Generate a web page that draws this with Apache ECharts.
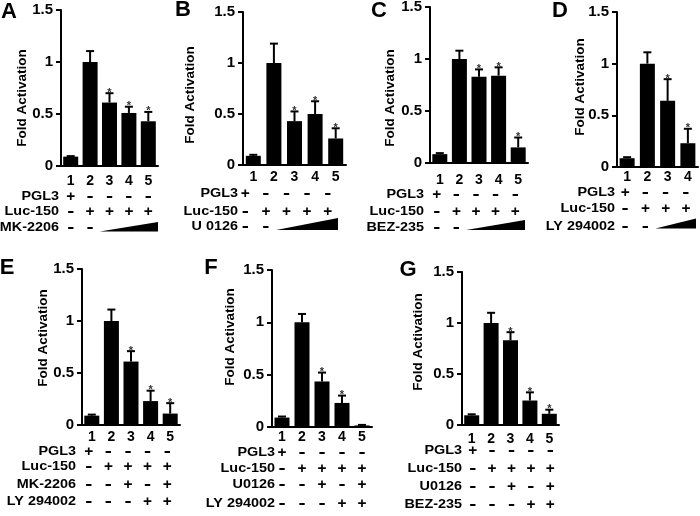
<!DOCTYPE html>
<html><head><meta charset="utf-8">
<script src="https://cdn.jsdelivr.net/npm/echarts@6/dist/echarts.min.js"></script>
<style>html,body{margin:0;padding:0;background:#fff}#c{width:700px;height:516px}</style>
</head><body><div id="c"></div>
<script>
// ---------- data ----------
const lanes5 = ['1','2','3','4','5'];
const lanes4 = ['1','2','3','4'];
const yMin = 0, yMax = 1.5, yStep = 0.5;

const meanA = [0.09, 1.0, 0.61, 0.51, 0.43];
const semA  = [0.005, 0.105, 0.09, 0.06, 0.09];
const starA = [0, 0, 1, 1, 1];
const rowsA = ['PGL3', 'Luc-150', 'MK-2206'];
const marksA = [['+','-','-','-','-'], ['-','+','+','+','+'], ['-','-','','','']];

const meanB = [0.09, 1.0, 0.43, 0.50, 0.26];
const semB  = [0.01, 0.19, 0.095, 0.125, 0.10];
const starB = [0, 0, 1, 1, 1];
const rowsB = ['PGL3', 'Luc-150', 'U 0126'];
const marksB = [['+','-','-','-','-'], ['-','+','+','+','+'], ['-','-','','','']];

const meanC = [0.085, 1.0, 0.83, 0.84, 0.15];
const semC  = [0.01, 0.08, 0.07, 0.08, 0.095];
const starC = [0, 0, 1, 1, 1];
const rowsC = ['PGL3', 'Luc-150', 'BEZ-235'];
const marksC = [['+','-','-','-','-'], ['-','+','+','+','+'], ['-','-','','','']];

const meanD = [0.085, 1.0, 0.64, 0.23];
const semD  = [0.01, 0.11, 0.21, 0.14];
const starD = [0, 0, 1, 1];
const rowsD = ['PGL3', 'Luc-150', 'LY 294002'];
const marksD = [['+','-','-','-'], ['-','+','+','+'], ['-','-','','']];

const meanE = [0.09, 1.0, 0.61, 0.23, 0.11];
const semE  = [0.01, 0.11, 0.10, 0.10, 0.10];
const starE = [0, 0, 1, 1, 1];
const rowsE = ['PGL3', 'Luc-150', 'MK-2206', 'LY 294002'];
const marksE = [['+','-','-','-','-'], ['-','+','+','+','+'], ['-','-','+','-','+'], ['-','-','-','+','+']];

const meanF = [0.09, 1.0, 0.435, 0.23, 0.015];
const semF  = [0.01, 0.08, 0.085, 0.07, 0.005];
const starF = [0, 0, 1, 1, 0];
const rowsF = ['PGL3', 'Luc-150', 'U0126', 'LY 294002'];
const marksF = [['+','-','-','-','-'], ['-','+','+','+','+'], ['-','-','+','-','+'], ['-','-','-','+','+']];

const meanG = [0.095, 1.0, 0.83, 0.24, 0.11];
const semG  = [0.01, 0.10, 0.08, 0.08, 0.04];
const starG = [0, 0, 1, 1, 1];
const rowsG = ['PGL3', 'Luc-150', 'U0126', 'BEZ-235'];
const marksG = [['+','-','-','-','-'], ['-','+','+','+','+'], ['-','-','+','-','+'], ['-','-','-','+','+']];

const panelLetters = ['A','B','C','D','E','F','G'];
const yTitle = 'Fold Activation';

// ---------- layout ----------
const FF = '"Liberation Sans", Arial, sans-serif';
const panels = [
  {lanes: lanes5, mean: meanA, sem: semA, star: starA, rows: rowsA, marks: marksA, wedgeRow: 2,
   g: [61, 10, 97, 156], numMargin: 8, rowY: [31, 46, 62], colDx: 0, nameDx: -2, wedge: [65.5, 9.5],
   letter: [9, 12], title: [22, 98]},
  {lanes: lanes5, mean: meanB, sem: semB, star: starB, rows: rowsB, marks: marksB, wedgeRow: 2,
   g: [243, 12, 103, 153], numMargin: 5, rowY: [29, 47, 62], colDx: -8, nameDx: -5, wedge: [65, 12],
   letter: [183, 10], title: [190, 95]},
  {lanes: lanes5, mean: meanC, sem: semC, star: starC, rows: rowsC, marks: marksC, wedgeRow: 2,
   g: [430, 7, 98, 156], numMargin: 10, rowY: [32, 49, 65], colDx: -3, nameDx: -6, wedge: [67, 10],
   letter: [379, 11], title: [390, 98]},
  {lanes: lanes4, mean: meanD, sem: semD, star: starD, rows: rowsD, marks: marksD, wedgeRow: 2,
   g: [617, 12, 81, 155], numMargin: 3, rowY: [26, 42, 60], colDx: -2, nameDx: -2, wedge: [61.5, 10],
   letter: [560, 11], title: [580, 87]},
  {lanes: lanes5, mean: meanE, sem: semE, star: starE, rows: rowsE, marks: marksE, wedgeRow: null,
   g: [82, 269, 98, 156], numMargin: 5, rowY: [27, 42, 60, 77], colDx: -3, nameDx: -6, wedge: null,
   letter: [7, 268], title: [43, 338]},
  {lanes: lanes5, mean: meanF, sem: semF, star: starF, rows: rowsF, marks: marksF, wedgeRow: null,
   g: [272, 270, 100, 157], numMargin: 3, rowY: [26, 42, 58, 77], colDx: 0, nameDx: 3, wedge: null,
   letter: [211, 268], title: [230, 337]},
  {lanes: lanes5, mean: meanG, sem: semG, star: starG, rows: rowsG, marks: marksG, wedgeRow: null,
   g: [462, 272, 97, 153], numMargin: 7, rowY: [26, 44, 62, 80], colDx: 1, nameDx: 0, wedge: null,
   letter: [408, 270], title: [418, 342]}
];

const TXT = 'bold 12px ' + FF;

function errorRender(params, api) {
  const x = api.value(0), m = api.value(1), t = api.value(2), s = api.value(3);
  const p0 = api.coord([x, m]), p1 = api.coord([x, t]);
  const ls = {stroke: '#000', lineWidth: 2};
  const ch = [
    {type: 'line', shape: {x1: p0[0], y1: p0[1], x2: p1[0], y2: p1[1]}, style: ls},
    {type: 'line', shape: {x1: p1[0] - 4, y1: p1[1], x2: p1[0] + 4, y2: p1[1]}, style: ls}
  ];
  if (s) ch.push({type: 'text', x: p1[0], y: p1[1] + 5,
    style: {text: '*', font: 'bold 11px ' + FF, fill: '#333', align: 'center', verticalAlign: 'bottom'}});
  return {type: 'group', children: ch};
}

function tableRender(P) {
  return function (params, api) {
    const lane = api.value(0);
    const p = api.coord([lane, 0]);
    const bw = api.size([1, 0])[0];
    const ch = [];
    const x = p[0] + P.colDx;
    P.marks.forEach(function (row, r) {
      const t = row[lane];
      if (!t) return;
      const dash = t === '-';
      ch.push({type: 'text', x: x, y: p[1] + P.rowY[r] + (dash ? -1 : 0), scaleX: dash ? 1.25 : 1.1,
        style: {text: t, font: (dash ? 'bold 17px ' : 'bold 14px ') + FF, fill: '#000', align: 'center', verticalAlign: 'middle'}});
    });
    if (lane === 0) {
      const left = p[0] - bw / 2;
      P.rows.forEach(function (name, r) {
        ch.push({type: 'text', x: left + P.nameDx, y: p[1] + P.rowY[r], scaleX: 1.2,
          style: {text: name, font: TXT, fill: '#000', align: 'right', verticalAlign: 'middle'}});
      });
      if (P.wedgeRow !== null) {
        const n = P.lanes.length;
        const x0 = p[0] + bw * 1.5 + P.colDx;
        const x1 = p[0] + bw * (n - 0.5) + P.colDx;
        const yb = p[1] + P.wedge[0];
        ch.push({type: 'polygon', shape: {points: [[x0, yb], [x1, yb], [x1, yb - P.wedge[1]]]},
          style: {fill: '#000'}});
      }
    }
    return {type: 'group', children: ch};
  };
}

const grid = [], xAxis = [], yAxis = [], series = [], graphic = [];
panels.forEach(function (P, i) {
  grid.push({left: P.g[0], top: P.g[1], width: P.g[2], height: P.g[3], containLabel: false, outerBoundsMode: 'none'});
  xAxis.push({type: 'category', gridIndex: i, data: P.lanes,
    axisLine: {lineStyle: {color: '#000', width: 2}},
    axisTick: {length: 4, lineStyle: {color: '#000', width: 2}},
    axisLabel: {interval: 0, color: '#000', fontSize: 14, fontWeight: 'bold', fontFamily: FF, margin: P.numMargin}});
  yAxis.push({type: 'value', gridIndex: i, min: yMin, max: yMax, interval: yStep,
    axisLine: {show: true, lineStyle: {color: '#000', width: 2}},
    axisTick: {show: true, length: 5, lineStyle: {color: '#000', width: 2}},
    splitLine: {show: false},
    axisLabel: {color: '#000', fontSize: 15, fontWeight: 'bold', fontFamily: FF, margin: 8}});
  series.push({type: 'bar', xAxisIndex: i, yAxisIndex: i, data: P.mean, barWidth: 15,
    itemStyle: {color: '#000'}, z: 2});
  series.push({type: 'custom', xAxisIndex: i, yAxisIndex: i, z: 3,
    data: P.mean.map(function (m, j) { return [j, m, m + P.sem[j], P.star[j]]; }),
    encode: {x: 0, y: 2}, renderItem: errorRender});
  series.push({type: 'custom', xAxisIndex: i, yAxisIndex: i, z: 3, clip: false,
    data: P.lanes.map(function (l, j) { return [j, 0]; }),
    encode: {x: 0, y: 1}, renderItem: tableRender(P)});
  graphic.push({type: 'text', x: P.letter[0], y: P.letter[1],
    style: {text: panelLetters[i], font: 'bold 22px ' + FF, fill: '#000', align: 'center', verticalAlign: 'middle'}});
  graphic.push({type: 'text', x: P.title[0], y: P.title[1], rotation: Math.PI / 2,
    style: {text: yTitle, font: 'bold 13.5px ' + FF, fill: '#000', align: 'center', verticalAlign: 'middle'}});
});

const chart = echarts.init(document.getElementById('c'), null, {renderer: 'canvas'});
chart.setOption({animation: false, backgroundColor: '#fff', grid, xAxis, yAxis, series, graphic});
</script></body></html>
